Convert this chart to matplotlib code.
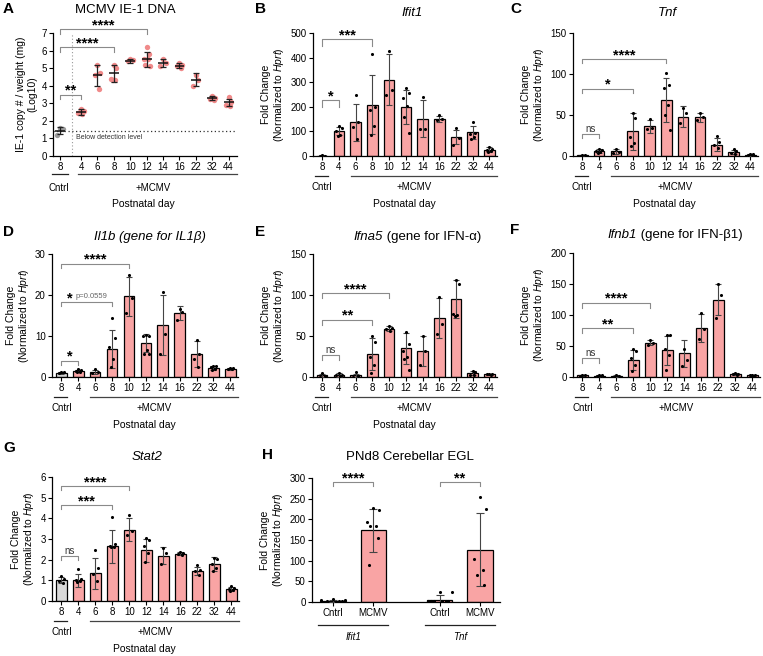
import numpy as np
import matplotlib
matplotlib.use("Agg")
import matplotlib.pyplot as plt
from matplotlib import transforms

plt.rcParams['font.family'] = ['Liberation Sans', 'DejaVu Sans']
plt.rcParams['mathtext.fontset'] = 'custom'
plt.rcParams['mathtext.rm'] = 'Liberation Sans'
plt.rcParams['mathtext.it'] = 'Liberation Sans:italic'

W, H = 763, 656
days = ['8', '4', '6', '8', '10', '12', '14', '16', '22', '32', '44']

# A - MCMV IE-1 DNA (log10)
a_mean = [1.45, 2.5, 4.6, 4.7, 5.42, 5.5, 5.3, 5.15, 4.35, 3.3, 3.05]
a_sd = [0.2, 0.15, 0.6, 0.5, 0.1, 0.42, 0.22, 0.15, 0.35, 0.1, 0.2]
a_pts = [[1.6, 1.55, 1.2], [2.65, 2.55, 2.45, 2.4, 2.5], [5.2, 4.7, 4.6, 3.8],
         [5.2, 5.0, 4.4, 4.3, 4.3], [5.5, 5.45, 5.4], [6.2, 5.8, 5.5, 5.5, 5.2, 5.1],
         [5.5, 5.3, 5.1], [5.3, 5.2, 5.1, 5.0], [4.6, 4.3, 4.0],
         [3.4, 3.3, 3.25, 3.2], [3.35, 3.1, 2.9, 2.85]]
a_detect = 1.45
a_sig = [(1, 3.5, 0.28, '**'), (3, 6.2, 0.28, '****'), (5, 7.2, 0.25, '****')]

# B - Ifit1
b_mean = [2, 102, 138, 208, 310, 200, 152, 152, 77, 96, 25]
b_sd = [1.5, 15, 75, 120, 103, 70, 75, 12, 30, 27, 10]
b_pts = [[3, 2, 1], [122, 112, 100, 85, 80], [250, 140, 118, 70], [415, 200, 185, 120, 85],
         [428, 270, 250], [275, 255, 235, 205, 160, 95], [238, 110, 110], [165, 150, 145],
         [115, 75, 45], [137, 95, 90, 78, 70], [35, 30, 25, 20, 15]]
b_sig = [(1, 227, 27, '*'), (3, 475, 27, '***')]

# C - Tnf
c_mean = [1, 6, 5.5, 30, 36, 68, 48, 47, 14, 5, 1.5]
c_sd = [0.5, 2, 2.5, 23, 8, 27, 13, 6, 8, 2.5, 1]
c_pts = [[1, 1, 0.5], [9, 7, 6, 5, 4], [9, 5, 4], [53, 46, 23, 16, 12], [45, 34, 33],
         [101, 86, 83, 62, 50, 32], [58, 52, 40], [53, 47, 44], [24, 17, 13, 10],
         [8, 6, 4, 3], [2, 2, 1.5, 1]]
c_sig = [(1, 27, 5, 'ns'), (3, 82, 5, '*'), (5, 118, 5, '****')]

# D - Il1b
d_mean = [1.0, 1.4, 1.3, 6.8, 19.7, 8.2, 12.7, 15.5, 5.6, 2.2, 2.0]
d_sd = [0.15, 0.3, 0.5, 4.7, 4.8, 2.2, 7.3, 1.7, 3.2, 0.6, 0.25]
d_pts = [[1.2, 1.1, 1.0], [1.9, 1.6, 1.4, 1.2, 1.1], [2.0, 1.2, 1.0], [14.5, 9.5, 7.2, 4.5, 2.5],
         [24.8, 19.2, 15.5], [10.3, 10.1, 10.0, 6.5, 5.6, 5.5], [20.8, 10.5, 5.5],
         [16.5, 15.8, 14.0], [9.0, 5.5, 4.5, 2.5], [2.8, 2.7, 2.5, 2.0, 1.7], [2.3, 2.1, 2.0, 1.9]]
d_sig = [(1, 4.0, 1.0, '*'), (3, 18.2, 1.0, ''), (4, 27.6, 1.0, '****')]
d_pval = 'p=0.0559'

# E - Ifna5
e_mean = [2, 2.5, 2, 28, 59, 35, 32, 72, 95, 4.5, 3.5]
e_sd = [2, 2, 2, 19, 3, 19, 18, 24, 23, 2.5, 0.5]
e_pts = [[5, 1, 0.5], [5, 3, 2, 1], [6, 1, 0.5], [50, 43, 25, 15, 5], [62, 60, 58, 56],
         [55, 40, 32, 25, 22, 9], [50, 32, 15], [98, 65, 53], [118, 113, 77, 76, 75],
         [7, 6, 3, 2], [4, 4, 3.5, 3]]
e_sig = [(1, 27, 6, 'ns'), (3, 70, 6, '**'), (4, 102, 6, '****')]

# F - Ifnb1
f_mean = [2.5, 2, 1.5, 28, 55, 43, 38, 79, 125, 5, 3]
f_sd = [1.5, 1.5, 1.5, 16, 4, 23, 22, 23, 25, 1, 1]
f_pts = [[3, 3, 2], [4, 3, 2, 1, 1], [4, 1, 0.5], [45, 42, 30, 20, 10], [60, 55, 52],
         [68, 67, 45, 35, 12], [45, 28, 17], [103, 78, 62], [150, 133, 95],
         [6, 5, 5, 4], [4, 3, 3, 2, 2]]
f_sig = [(1, 31, 8, 'ns'), (3, 79, 8, '**'), (4, 120, 8, '****')]

# G - Stat2
g_mean = [1.0, 1.0, 1.35, 2.65, 3.45, 2.45, 2.2, 2.28, 1.45, 1.78, 0.6]
g_sd = [0.15, 0.3, 0.75, 0.8, 0.55, 0.55, 0.4, 0.07, 0.2, 0.33, 0.1]
g_pts = [[1.2, 1.05, 0.95, 0.85], [1.55, 1.05, 1.0, 0.95, 0.9], [2.45, 1.6, 1.3, 0.95],
         [4.05, 2.75, 2.65, 2.6, 2.6], [4.15, 3.4, 3.2], [3.05, 2.95, 2.65, 2.3, 1.9],
         [2.55, 2.3, 1.8], [2.35, 2.3, 2.28, 2.22], [1.75, 1.5, 1.45, 1.25],
         [2.1, 2.05, 1.8, 1.6, 1.45], [0.72, 0.65, 0.6, 0.55, 0.5]]
g_sig = [(1, 2.17, 0.2, 'ns'), (3, 4.63, 0.2, '***'), (4, 5.55, 0.2, '****')]

# H - PNd8 cerebellar EGL
h_labels = ['Cntrl', 'MCMV', 'Cntrl', 'MCMV']
h_genes = ['Ifit1', 'Tnf']
h_mean = [3, 173, 5, 127]
h_sd = [2, 52, 12, 88]
h_pts = [[7, 5, 4, 3, 2, 2, 1, 1], [228, 222, 193, 185, 185, 155, 90],
         [25, 25, 2, 2, 2, 2, 2, 2], [254, 225, 104, 77, 65, 42]]
h_sig = [(0, 1, 290, 10, '****'), (2, 3, 290, 10, '**')]

PINK = '#f9a4a4'
DOT = '#f08a8a'
GREY_BAR = '#d9d9d9'
JIT = [0.0, 0.16, -0.16, 0.08, -0.08, 0.2, -0.2, 0.12]

fig = plt.figure(figsize=(W / 100, H / 100), dpi=100)
rend = fig.canvas.get_renderer()


def box(l, t, r, b):
    return fig.add_axes([l / W, 1 - b / H, (r - l) / W, (b - t) / H])


def style(ax, top, step):
    ax.spines[['top', 'right']].set_visible(False)
    ax.spines[['left', 'bottom']].set_linewidth(0.9)
    ax.set_ylim(0, top)
    ax.set_yticks(np.arange(0, top + step / 2, step))
    ax.tick_params(labelsize=7, length=3, width=0.8, pad=1.5)


def fold_label(ax):
    ax.set_ylabel('Fold Change\n(Normalized to $\\mathit{Hprt}$)', fontsize=7.5,
                  labelpad=3, linespacing=1.1)


def title(cx, cy, it, rest='', size=9.5):
    t1 = fig.text(0, 1 - cy / H, it, fontsize=size, style='italic', va='center')
    w1 = t1.get_window_extent(rend).width
    w2 = 0
    if rest:
        t2 = fig.text(0, 1 - cy / H, rest, fontsize=size, va='center')
        w2 = t2.get_window_extent(rend).width
    x0 = cx - (w1 + w2) / 2
    t1.set_x(x0 / W)
    if rest:
        t2.set_x((x0 + w1) / W)


def stars(ax, x, y, txt):
    ax.text(x, y, txt, ha='center', va='baseline', fontsize=10.5, fontweight='bold')


def bracket(ax, x1, x2, y, leg, txt):
    ax.plot([x1, x1, x2, x2], [y - leg, y, y, y - leg], color='#8a8a8a', lw=0.8,
            clip_on=False)
    if txt == 'ns':
        ax.text((x1 + x2) / 2, y, 'ns', ha='center', va='bottom', fontsize=7, color='#333')
    elif txt:
        stars(ax, (x1 + x2) / 2, y, txt)


def groups(ax, cx, mx, px, right, label=True):
    tr = transforms.blended_transform_factory(ax.transData, fig.transFigure)
    bot = ax.get_position().y0
    ax.plot([cx - 0.45, cx + 0.35], [bot - 20 / H] * 2, transform=tr, color='#222',
            lw=0.9, clip_on=False)
    ax.plot([cx + 1.7, right], [bot - 20 / H] * 2, transform=tr, color='#444',
            lw=0.9, clip_on=False)
    ax.text(cx, bot - 31 / H, 'Cntrl', transform=tr, ha='center', va='center', fontsize=7)
    ax.text(mx, bot - 31 / H, '+MCMV', transform=tr, ha='center', va='center', fontsize=7)
    if label:
        ax.text(px, bot - 48 / H, 'Postnatal day', transform=tr, ha='center',
                va='center', fontsize=7.5)


def bar_panel(rect, mean, sd, pts, sig, top, step, grey_ctrl=False, label=True):
    ax = box(*rect)
    x = np.arange(len(mean))
    cols = [GREY_BAR if (grey_ctrl and i == 0) else PINK for i in x]
    ax.bar(x, mean, width=0.63, color=cols, edgecolor='black', linewidth=0.9, zorder=2)
    ax.errorbar(x, mean, yerr=sd, fmt='none', ecolor='#444', elinewidth=0.8,
                capsize=2.5, capthick=0.8, zorder=3)
    for i, p in enumerate(pts):
        ax.scatter(x[i] + np.array(JIT[:len(p)]), p, s=5, color='black', zorder=4,
                   linewidths=0)
    for j, y, leg, txt in sig:
        bracket(ax, 0, j, y, leg, txt)
    style(ax, top, step)
    ax.set_xlim(-0.55, 10.45)
    ax.set_xticks(x, days)
    fold_label(ax)
    groups(ax, 0, 5.5, 4.9, 10.45, label)
    return ax


# panel A
axA = box(53, 33, 237, 156)
xa = np.array([0] + [1.28 + i for i in range(10)])
for i, p in enumerate(a_pts):
    c = '#9a9a9a' if i == 0 else DOT
    axA.scatter(xa[i] + np.array(JIT[:len(p)]), p, s=15, color=c, zorder=2, linewidths=0)
axA.errorbar(xa, a_mean, yerr=a_sd, fmt='none', ecolor='#222', elinewidth=0.9,
             capsize=2.5, capthick=0.9, zorder=3)
axA.hlines(a_mean, xa - 0.3, xa + 0.3, color='#111', lw=1.1, zorder=3)
axA.axhline(a_detect, color='#333', lw=0.9, ls=(0, (1, 2)), zorder=1)
axA.axvline(0.73, color='#999', lw=0.8, ls=(0, (1, 2)), zorder=1)
axA.text(1.0, a_detect - 0.18, 'Below detection level', fontsize=5, va='top', color='#333')
for j, y, leg, txt in a_sig:
    bracket(axA, 0, xa[j], y, leg, txt)
style(axA, 7, 1)
axA.set_xlim(-0.43, 10.79)
axA.set_xticks(xa, days)
axA.set_ylabel('IE-1 copy # / weight (mg)\n(Log10)', fontsize=7.5, labelpad=3,
               linespacing=1.1)
fig.text(125 / W, 1 - 10 / H, 'MCMV IE-1 DNA', ha='center', va='center', fontsize=9.5)
trA = transforms.blended_transform_factory(axA.transData, fig.transFigure)
botA = axA.get_position().y0
axA.plot([-0.5, 0.5], [botA - 18 / H] * 2, transform=trA, color='#222', lw=0.9, clip_on=False)
axA.plot([1.1, 10.79], [botA - 18 / H] * 2, transform=trA, color='#444', lw=0.9, clip_on=False)
axA.text(-0.1, botA - 32 / H, 'Cntrl', transform=trA, ha='center', va='center', fontsize=7)
axA.text(5.67, botA - 32 / H, '+MCMV', transform=trA, ha='center', va='center', fontsize=7)
axA.text(5.06, botA - 48 / H, 'Postnatal day', transform=trA, ha='center', va='center',
         fontsize=7.5)

bar_panel((313, 33, 497, 156), b_mean, b_sd, b_pts, b_sig, 500, 100)
title(412, 13, 'Ifit1')
bar_panel((573, 33, 758, 156), c_mean, c_sd, c_pts, c_sig, 150, 50)
title(667, 13, 'Tnf')
axD = bar_panel((52, 254, 238, 377), d_mean, d_sd, d_pts, d_sig, 30, 10, grey_ctrl=True)
title(150, 237, 'Il1b (gene for IL1β)')
stars(axD, 0.5, 18.2, '*')
axD.text(0.85, 18.7, d_pval, fontsize=5.5, color='#666', va='bottom')
bar_panel((313, 254, 497, 377), e_mean, e_sd, e_pts, e_sig, 150, 50)
title(417, 237, 'Ifna5', ' (gene for IFN-α)')
bar_panel((573, 253, 760, 377), f_mean, f_sd, f_pts, f_sig, 200, 50, label=False)
title(675, 235, 'Ifnb1', ' (gene for IFN-β1)')
bar_panel((52, 477, 239, 601), g_mean, g_sd, g_pts, g_sig, 6, 1, grey_ctrl=True)
title(147, 457, 'Stat2')

# panel H
axH = box(312, 478, 500, 602)
xh = np.array([0, 1, 2.65, 3.65])
axH.bar(xh, h_mean, width=0.63, color=PINK, edgecolor='black', linewidth=0.9, zorder=2)
axH.errorbar(xh, h_mean, yerr=h_sd, fmt='none', ecolor='#444', elinewidth=0.8,
             capsize=3, capthick=0.8, zorder=3)
for i, p in enumerate(h_pts):
    off = np.array([0.0, 0.3, -0.3, 0.15, -0.15, 0.22, -0.22, 0.07])[:len(p)]
    axH.scatter(xh[i] + off * (1 if len(p) > 7 else 0.5), p, s=5, color='black',
                zorder=4, linewidths=0)
for a, b, y, leg, txt in h_sig:
    bracket(axH, xh[a], xh[b], y, leg, txt)
style(axH, 300, 50)
axH.set_xlim(-0.52, 4.15)
axH.set_xticks(xh, h_labels)
fold_label(axH)
fig.text(410 / W, 1 - 457 / H, 'PNd8 Cerebellar EGL', ha='center', va='center', fontsize=9.5)
trH = transforms.blended_transform_factory(axH.transData, fig.transFigure)
botH = axH.get_position().y0
for k, g in enumerate(h_genes):
    x0 = xh[2 * k]
    axH.plot([x0 - 0.37, x0 + 1.37], [botH - 23 / H] * 2, transform=trH, color='#222',
             lw=0.9, clip_on=False)
    axH.text(x0 + 0.5, botH - 35 / H, g, transform=trH, ha='center', va='center',
             fontsize=7, style='italic')

for lab, (px, py) in zip('ABCDEFGH', [(3, 9), (255, 9), (510, 9), (3, 232), (255, 232),
                                      (510, 230), (3, 448), (262, 455)]):
    fig.text(px / W, 1 - py / H, lab, fontsize=11, fontweight='bold', va='center')

fig.savefig('out.png', dpi=100)
